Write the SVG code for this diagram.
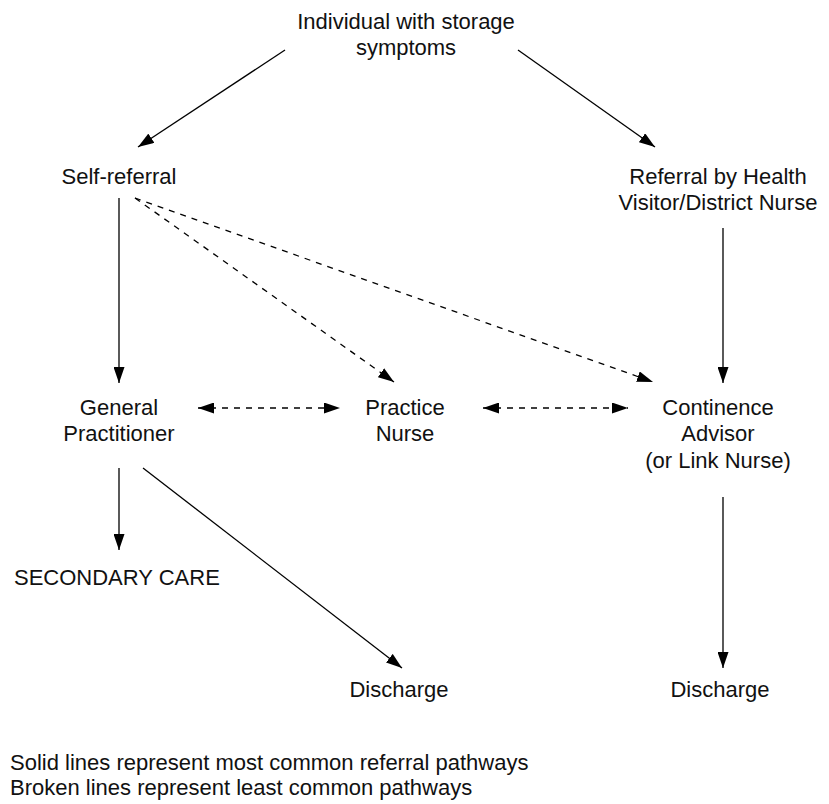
<svg xmlns="http://www.w3.org/2000/svg" width="829" height="804" viewBox="0 0 829 804">
<defs>
<style>
text{font-family:"Liberation Sans",Arial,sans-serif;font-size:22px;fill:#111;}
.c{text-anchor:middle;}
.ln{stroke:#000;stroke-width:1.3;fill:none;}
.d{stroke-dasharray:6,6;}
</style>
<marker id="ah" markerUnits="userSpaceOnUse" markerWidth="17" markerHeight="11" refX="16" refY="5.5" orient="auto-start-reverse" viewBox="0 0 17 11">
<path d="M0,0 L16,5.5 L0,11 z" fill="#000" stroke="none"/>
</marker>
</defs>
<rect width="829" height="804" fill="#fff"/>
<g id="connectors">
<line class="ln" x1="285" y1="50" x2="138" y2="147" marker-end="url(#ah)"/>
<line class="ln" x1="518" y1="50" x2="655" y2="147" marker-end="url(#ah)"/>
<line class="ln" x1="119" y1="198" x2="119" y2="383" marker-end="url(#ah)"/>
<line class="ln d" x1="135" y1="198" x2="394" y2="382" marker-end="url(#ah)"/>
<line class="ln d" x1="135" y1="198" x2="653" y2="382" marker-end="url(#ah)"/>
<line class="ln" x1="723" y1="228" x2="723" y2="383" marker-end="url(#ah)"/>
<line class="ln d" x1="198" y1="408" x2="340" y2="408" marker-start="url(#ah)" marker-end="url(#ah)"/>
<line class="ln d" x1="483" y1="408" x2="628" y2="408" marker-start="url(#ah)" marker-end="url(#ah)"/>
<line class="ln" x1="119" y1="468" x2="119" y2="550" marker-end="url(#ah)"/>
<line class="ln" x1="143" y1="468" x2="402" y2="668" marker-end="url(#ah)"/>
<line class="ln" x1="723" y1="497" x2="723" y2="668" marker-end="url(#ah)"/>
</g>
<g id="n-individual"><text class="c" x="406" y="29">Individual with storage</text><text class="c" x="406" y="55">symptoms</text></g>
<g id="n-self"><text class="c" x="119" y="184">Self-referral</text></g>
<g id="n-referral"><text class="c" x="718" y="184">Referral by Health</text><text class="c" x="718" y="210">Visitor/District Nurse</text></g>
<g id="n-gp"><text class="c" x="119" y="415">General</text><text class="c" x="119" y="441">Practitioner</text></g>
<g id="n-pn"><text class="c" x="405" y="415">Practice</text><text class="c" x="405" y="441">Nurse</text></g>
<g id="n-ca"><text class="c" x="718" y="415">Continence</text><text class="c" x="718" y="441">Advisor</text><text class="c" x="718" y="468">(or Link Nurse)</text></g>
<g id="n-secondary"><text x="14" y="585">SECONDARY CARE</text></g>
<g id="n-discharge1"><text class="c" x="399" y="697">Discharge</text></g>
<g id="n-discharge2"><text class="c" x="720" y="697">Discharge</text></g>
<g id="legend"><text x="10" y="770">Solid lines represent most common referral pathways</text><text x="10" y="795">Broken lines represent least common pathways</text></g>
</svg>
